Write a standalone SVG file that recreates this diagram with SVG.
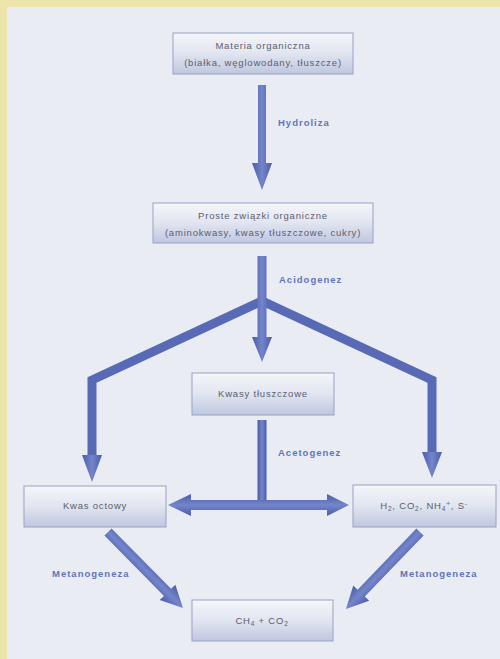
<svg xmlns="http://www.w3.org/2000/svg" width="500" height="659" viewBox="0 0 500 659">
<defs>
<linearGradient id="boxg" x1="0" y1="0" x2="0" y2="1">
<stop offset="0" stop-color="#f5f6fa"/>
<stop offset="0.5" stop-color="#e1e5f0"/>
<stop offset="1" stop-color="#bfc7e0"/>
</linearGradient>
<linearGradient id="arrh" x1="0" y1="0" x2="1" y2="0">
<stop offset="0" stop-color="#4a5cab"/>
<stop offset="0.5" stop-color="#7485ca"/>
<stop offset="1" stop-color="#4a5cab"/>
</linearGradient>
<linearGradient id="arrv" x1="0" y1="0" x2="0" y2="1">
<stop offset="0" stop-color="#4a5cab"/>
<stop offset="0.5" stop-color="#7485ca"/>
<stop offset="1" stop-color="#4a5cab"/>
</linearGradient>
<style>
.box{fill:url(#boxg);stroke:#98a1c6;stroke-width:1}
.t{font-family:"Liberation Sans",Arial,sans-serif;font-size:9.5px;fill:#5c5d6e;text-anchor:middle;letter-spacing:0.8px}
.lbl{font-family:"Liberation Sans",Arial,sans-serif;font-size:9.5px;font-weight:bold;fill:#6274bd;letter-spacing:1px}
.sub{font-size:6.5px}
.ah{fill:url(#arrh)}
.av{fill:url(#arrv)}
.br{fill:none;stroke:#5869b6;stroke-width:9;stroke-linejoin:miter}
</style>
</defs>
<rect x="0" y="0" width="500" height="659" fill="#e9edf3"/>
<rect x="0" y="0" width="500" height="7" fill="#eee5ad"/>
<rect x="0" y="0" width="7" height="659" fill="#eee5ad"/>

<g id="connectors">
<!-- Hydroliza -->
<polygon class="ah" points="258,85 266,85 266,163 272,163 262,190 252,163 258,163"/>
<!-- Acidogenez trunk and branches -->
<polyline class="br" points="92,456 92,380 262,301 432,380 432,452"/>
<polygon class="ah" points="257.5,256 266.5,256 266.5,337 272,337 262,362 252,337 257.5,337"/>
<polygon class="ah" points="82,455 102,455 92,482"/>
<polygon class="ah" points="422,452 442,452 432,478"/>
<!-- Acetogenez -->
<polygon class="ah" points="257.5,420 266.5,420 266.5,505 257.5,505"/>
<polygon class="av" points="168,505 191,494 191,500 327,500 327,494 349,505 327,516 327,510 191,510 191,516"/>
<!-- Metanogeneza -->
<g transform="translate(108,532) rotate(45.4)">
<polygon class="av" points="0,-5 84.8,-5 84.8,-11 106.8,0 84.8,11 84.8,5 0,5"/>
</g>
<g transform="translate(420,532) rotate(133.9)">
<polygon class="av" points="0,-5 84.8,-5 84.8,-11 106.8,0 84.8,11 84.8,5 0,5"/>
</g>
</g>

<g id="labels">
<text class="lbl" x="278" y="126">Hydroliza</text>
<text class="lbl" x="279" y="283">Acidogenez</text>
<text class="lbl" x="278" y="456">Acetogenez</text>
<text class="lbl" x="52" y="577">Metanogeneza</text>
<text class="lbl" x="400" y="577">Metanogeneza</text>
</g>

<g id="n1">
<rect class="box" x="173" y="33" width="180" height="41"/>
<text class="t" x="263" y="49">Materia organiczna</text>
<text class="t" x="263" y="66">(białka, węglowodany, tłuszcze)</text>
</g>
<g id="n2">
<rect class="box" x="153" y="203" width="220" height="40"/>
<text class="t" x="263" y="219">Proste związki organiczne</text>
<text class="t" x="263" y="236">(aminokwasy, kwasy tłuszczowe, cukry)</text>
</g>
<g id="n3">
<rect class="box" x="192" y="373" width="142" height="42"/>
<text class="t" x="263" y="397">Kwasy tłuszczowe</text>
</g>
<g id="n4">
<rect class="box" x="24" y="486" width="142" height="41"/>
<text class="t" x="95" y="509">Kwas octowy</text>
</g>
<g id="n5">
<rect class="box" x="353" y="485" width="143" height="42"/>
<text class="t" x="424" y="509">H<tspan class="sub" dy="2">2</tspan><tspan dy="-2">, CO</tspan><tspan class="sub" dy="2">2</tspan><tspan dy="-2">, NH</tspan><tspan class="sub" dy="2">4</tspan><tspan class="sub" dy="-5">+</tspan><tspan dy="3">, S</tspan><tspan class="sub" dy="-3">-</tspan></text>
</g>
<g id="n6">
<rect class="box" x="192" y="600" width="141" height="41"/>
<text class="t" x="262" y="624">CH<tspan class="sub" dy="2">4</tspan><tspan dy="-2"> + CO</tspan><tspan class="sub" dy="2">2</tspan></text>
</g>
</svg>
